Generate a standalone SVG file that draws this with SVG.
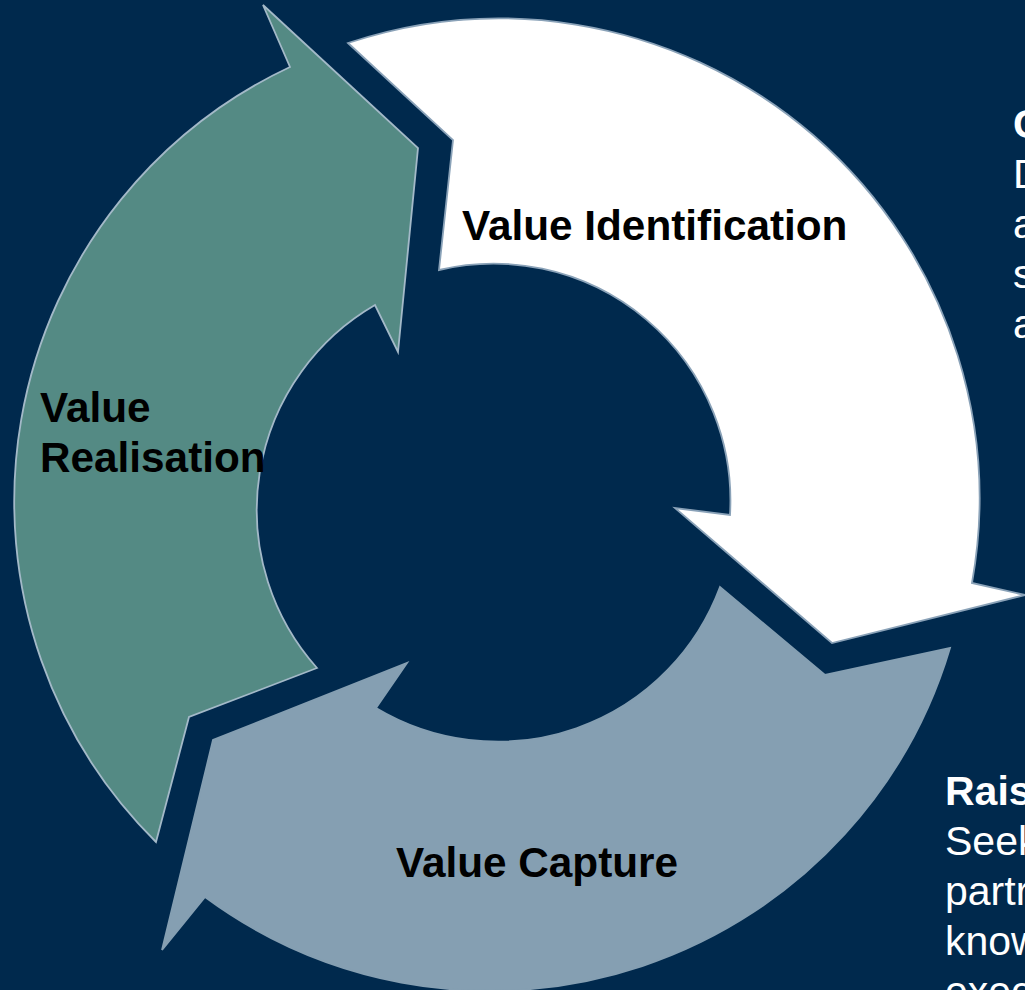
<svg xmlns="http://www.w3.org/2000/svg" width="1025" height="990" viewBox="0 0 1025 990">
  <style>
    .bg { fill: #00294d; }
    .arrow { stroke-linejoin: miter; stroke-width: 1.8; }
    .ident { fill: #ffffff; stroke: #8aa2b8; }
    .real { fill: #548a84; stroke: #a3b9c8; }
    .capt { fill: #859fb2; stroke: #859fb2; }
    .label { font-family: "Liberation Sans", Arial, sans-serif; font-weight: bold; font-size: 42.3px; fill: #000000; }
    .side { font-family: "Liberation Sans", Arial, sans-serif; font-size: 41px; fill: #ffffff; }
    .side .head { font-weight: bold; }
  </style>

  <rect class="bg" x="0" y="0" width="1025" height="990"/>

  <!-- cycle of three curved arrows; no separate connectors -->
  <g id="connectors"></g>

  <g id="value-identification">
    <path class="arrow ident" d="M348,43 A480,480 0 0 1 972,583 L1025,595 L832,643 L675,508 L730,515 A237,237 0 0 0 439,270 L453,140 Z"/>
    <text class="label" x="462" y="240">Value Identification</text>
  </g>

  <g id="value-realisation">
    <path class="arrow real" d="M156,842 A480,480 0 0 1 290,67 L263,5 L418,148 L398,352 L375,305 A237,237 0 0 0 317,668 L189,717 Z"/>
    <text class="label" x="40" y="422">Value</text>
    <text class="label" x="40" y="472">Realisation</text>
  </g>

  <g id="value-capture">
    <path class="arrow capt" d="M950,648 A480,480 0 0 1 205,897 L162,950 L213,740 L407,663 L376,708 A237,237 0 0 0 720,587 L825,675 Z"/>
    <text class="label" x="396" y="877">Value Capture</text>
  </g>

  <!-- side notes running off the right edge -->
  <g id="note-top" class="side">
    <text class="head" x="1013" y="138">C</text>
    <text x="1013" y="188">D</text>
    <text x="1013" y="238">a</text>
    <text x="1013" y="288">s</text>
    <text x="1013" y="338">a</text>
  </g>

  <g id="note-bottom" class="side">
    <text class="head" x="945" y="805">Rais</text>
    <text x="945" y="855">Seek</text>
    <text x="945" y="905">partr</text>
    <text x="945" y="955">know</text>
    <text x="945" y="1005">exec</text>
  </g>
</svg>
